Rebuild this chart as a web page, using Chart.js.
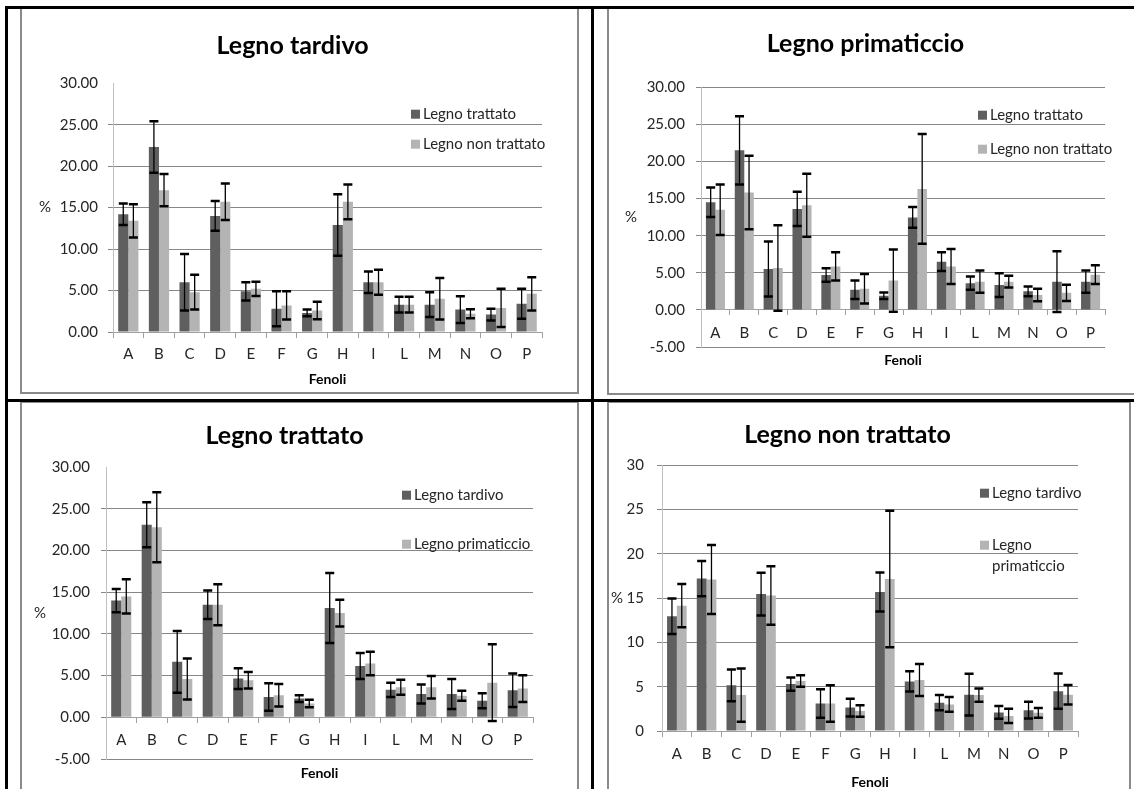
<!DOCTYPE html>
<html>
<head>
<meta charset="utf-8">
<title>Fenoli</title>
<script src="https://cdn.jsdelivr.net/npm/chart.js@4.4.0/dist/chart.umd.min.js"></script>
<style>
  body { margin:0; background:#fff; width:1134px; height:789px; position:relative; overflow:hidden; font-family:Lato, sans-serif; }
  .box { position:absolute; box-sizing:border-box; border:2px solid #8a8a8a; }
  .ln { position:absolute; background:#000; z-index:3; }
  canvas { position:absolute; z-index:2; }
</style>
</head>
<body>

<div class="box" style="left:20px;top:7px;width:559px;height:387px"></div>
<div class="box" style="left:607px;top:7px;width:600px;height:388px"></div>
<div class="box" style="left:20px;top:401px;width:559px;height:500px"></div>
<div class="box" style="left:607px;top:401px;width:524px;height:500px"></div>

<canvas id="c1" width="555" height="383" style="left:22px;top:9px"></canvas>
<canvas id="c2" width="525" height="384" style="left:609px;top:9px"></canvas>
<canvas id="c3" width="555" height="386" style="left:22px;top:403px"></canvas>
<canvas id="c4" width="520" height="386" style="left:609px;top:403px"></canvas>

<div class="ln" style="left:5px;top:6px;width:1129px;height:3px"></div>
<div class="ln" style="left:5px;top:6px;width:3px;height:783px"></div>
<div class="ln" style="left:5px;top:399px;width:1129px;height:3px"></div>
<div class="ln" style="left:591px;top:6px;width:3px;height:783px"></div>

<script>
/********************************
 *  dati
 * ******************************/
var categories = ['A','B','C','D','E','F','G','H','I','L','M','N','O','P'];

// Legno tardivo
var tardivoTrattato        = [14.2, 22.3, 6.0, 14.0, 4.9, 2.8, 2.3, 12.9, 6.0, 3.3, 3.3, 2.7, 2.1, 3.4];
var tardivoTrattatoErr     = [1.3, 3.1, 3.4, 1.8, 1.1, 2.1, 0.4, 3.7, 1.3, 0.95, 1.5, 1.6, 0.7, 1.8];
var tardivoNonTrattato     = [13.4, 17.1, 4.8, 15.7, 5.2, 3.2, 2.6, 15.7, 6.0, 3.3, 4.0, 2.2, 2.9, 4.6];
var tardivoNonTrattatoErr  = [2.0, 1.95, 2.1, 2.2, 0.85, 1.7, 1.05, 2.1, 1.5, 0.95, 2.5, 0.55, 2.3, 2.0];

// Legno primaticcio
var primTrattato           = [14.5, 21.5, 5.5, 13.6, 4.7, 2.7, 1.9, 12.45, 6.5, 3.6, 3.35, 2.5, 3.8, 3.8];
var primTrattatoErr        = [2.0, 4.6, 3.7, 2.3, 0.9, 1.25, 0.45, 1.4, 1.25, 0.9, 1.6, 0.65, 4.1, 1.5];
var primNonTrattato        = [13.5, 15.8, 5.65, 14.1, 5.85, 2.85, 3.95, 16.3, 5.85, 3.8, 3.8, 2.0, 2.3, 4.75];
var primNonTrattatoErr     = [3.4, 4.95, 5.75, 4.25, 1.9, 2.0, 4.2, 7.4, 2.35, 1.5, 0.8, 0.85, 1.1, 1.25];

// Legno trattato
var trattatoTardivo        = [14.0, 23.1, 6.65, 13.5, 4.65, 2.45, 2.25, 13.1, 6.15, 3.3, 2.8, 2.8, 2.0, 3.25];
var trattatoTardivoErr     = [1.4, 2.7, 3.7, 1.7, 1.25, 1.65, 0.4, 4.2, 1.55, 0.85, 1.15, 1.8, 0.9, 2.0];
var trattatoPrimaticcio    = [14.5, 22.8, 4.6, 13.5, 4.45, 2.65, 1.65, 12.5, 6.45, 3.6, 3.6, 2.6, 4.15, 3.45];
var trattatoPrimaticcioErr = [2.05, 4.2, 2.45, 2.45, 1.0, 1.35, 0.45, 1.6, 1.4, 0.9, 1.35, 0.6, 4.6, 1.6];

// Legno non trattato
var nonTrattatoTardivo        = [12.95, 17.2, 5.15, 15.45, 5.3, 3.1, 2.65, 15.7, 5.6, 3.2, 4.1, 2.1, 2.35, 4.5];
var nonTrattatoTardivoErr     = [2.0, 2.0, 1.8, 2.4, 0.75, 1.6, 1.0, 2.2, 1.15, 0.87, 2.35, 0.73, 0.95, 2.0];
var nonTrattatoPrimaticcio    = [14.15, 17.1, 4.05, 15.3, 5.65, 3.1, 2.25, 17.15, 5.75, 3.0, 4.05, 1.7, 2.05, 4.1];
var nonTrattatoPrimaticcioErr = [2.45, 3.9, 3.0, 3.3, 0.65, 2.05, 0.65, 7.7, 1.8, 0.83, 0.75, 0.8, 0.55, 1.1];

var DARK = '#5f5f5f';
var LIGHT = '#b4b4b4';
var GRID = '#878787';
var FONT = 'Lato';

/********************************
 *  plugin: barre d'errore, legenda interna, etichetta "%"
 * ******************************/
var errorBars = {
    id: 'errorBars',
    afterDatasetsDraw: function(chart) {
        var ctx = chart.ctx;
        var y = chart.scales.y;
        ctx.save();
        ctx.strokeStyle = '#000';
        chart.data.datasets.forEach(function(ds, i) {
            var meta = chart.getDatasetMeta(i);
            meta.data.forEach(function(bar, j) {
                var v = ds.data[j], e = ds.errors[j];
                var top = y.getPixelForValue(v + e);
                var bot = y.getPixelForValue(v - e);
                ctx.lineWidth = 1.3;
                ctx.beginPath();
                ctx.moveTo(bar.x, top);
                ctx.lineTo(bar.x, bot);
                ctx.stroke();
                ctx.lineWidth = 2.5;
                ctx.beginPath();
                ctx.moveTo(bar.x - 4.5, top); ctx.lineTo(bar.x + 4.5, top);
                ctx.moveTo(bar.x - 4.5, bot); ctx.lineTo(bar.x + 4.5, bot);
                ctx.stroke();
            });
        });
        ctx.restore();
    }
};

var boxLegend = {
    id: 'boxLegend',
    afterDraw: function(chart, args, opts) {
        var ctx = chart.ctx;
        var area = chart.chartArea;
        var x = area.right - opts.dx;
        ctx.save();
        ctx.font = '15px ' + FONT;
        ctx.textBaseline = 'middle';
        ctx.textAlign = 'left';
        chart.data.datasets.forEach(function(ds, i) {
            var yc = area.top + opts.ys[i];
            // a capo se l'etichetta e' troppo lunga
            var lines = [ds.label];
            if (opts.maxWidth && ctx.measureText(ds.label).width > opts.maxWidth) {
                lines = ds.label.split(' ');
            }
            ctx.fillStyle = ds.backgroundColor;
            ctx.fillRect(x, yc - 4.5, 9, 9);
            ctx.fillStyle = '#262626';
            lines.forEach(function(t, k) {
                ctx.fillText(t, x + 12, yc + k * 21);
            });
        });
        ctx.restore();
    }
};

var sideLabel = {
    id: 'sideLabel',
    afterDraw: function(chart, args, opts) {
        var ctx = chart.ctx;
        var area = chart.chartArea;
        ctx.save();
        ctx.font = '15px ' + FONT;
        ctx.fillStyle = '#262626';
        ctx.textAlign = 'center';
        ctx.textBaseline = 'middle';
        ctx.fillText(opts.text, area.left - opts.dx, (area.top + area.bottom) / 2);
        ctx.restore();
    }
};

/********************************
 *  costruzione di un grafico
 * ******************************/
function buildChart(id, o) {
    var ctx = document.getElementById(id).getContext('2d');
    return new Chart(ctx, {
        type: 'bar',
        data: {
            labels: categories,
            datasets: [
                { label: o.names[0], data: o.dark, errors: o.darkErr, backgroundColor: DARK },
                { label: o.names[1], data: o.light, errors: o.lightErr, backgroundColor: LIGHT }
            ]
        },
        options: {
            responsive: false,
            animation: false,
            layout: { padding: o.padding },
            datasets: { bar: { barPercentage: 1, categoryPercentage: 0.66 } },
            plugins: {
                legend: { display: false },
                tooltip: { enabled: false },
                title: {
                    display: true,
                    text: o.title,
                    color: '#000',
                    font: { family: FONT, size: 25, weight: 'bold' },
                    padding: o.titlePad
                },
                boxLegend: o.legend,
                sideLabel: { text: '%', dx: o.pctDx }
            },
            scales: {
                x: {
                    position: { y: 0 },
                    offset: true,
                    grid: { offset: true, drawOnChartArea: false, drawTicks: true, tickLength: 5, color: '#a0a0a0' },
                    border: { color: '#a0a0a0' },
                    ticks: { color: '#262626', font: { family: FONT, size: 15 }, padding: o.xPad },
                    title: {
                        display: true,
                        text: 'Fenoli',
                        color: '#000',
                        font: { family: FONT, size: 14, weight: 'bold' },
                        padding: { top: 0, bottom: 0 }
                    },
                    afterFit: function(s) { s.height = o.xHeight; }
                },
                y: {
                    min: o.min,
                    max: 30,
                    ticks: {
                        stepSize: 5,
                        color: '#262626',
                        font: { family: FONT, size: 15 },
                        padding: o.yPad,
                        callback: function(v) { return o.decimals ? v.toFixed(2) : String(v); }
                    },
                    grid: {
                        tickLength: 5,
                        color: function(c) {
                            if (o.hideTop && c.tick && c.tick.value === 30) return 'rgba(0,0,0,0)';
                            return GRID;
                        }
                    },
                    border: { color: '#c0c0c0' },
                    afterFit: function(s) { s.width = o.yWidth; }
                }
            }
        },
        plugins: [errorBars, boxLegend, sideLabel]
    });
}

buildChart('c1', {
    title: 'Legno tardivo',
    names: ['Legno trattato', 'Legno non trattato'],
    dark: tardivoTrattato, darkErr: tardivoTrattatoErr,
    light: tardivoNonTrattato, lightErr: tardivoNonTrattatoErr,
    min: 0, decimals: true, hideTop: true,
    padding: { left: 21, right: 35, top: 0, bottom: 60 },
    titlePad: { top: 21.6, bottom: 22.6 },
    yWidth: 70, yPad: 10, xPad: 8, xHeight: 55.4, pctDx: 68,
    legend: { dx: 131, ys: [31, 61] }
});

buildChart('c2', {
    title: 'Legno primaticcio',
    names: ['Legno trattato', 'Legno non trattato'],
    dark: primTrattato, darkErr: primTrattatoErr,
    light: primNonTrattato, lightErr: primNonTrattatoErr,
    min: -5, decimals: true, hideTop: false,
    padding: { left: 17, right: 29, top: 0, bottom: 46 },
    titlePad: { top: 19.6, bottom: 28.6 },
    yWidth: 75, yPad: 11, xPad: 9, xHeight: 59.4, pctDx: 70,
    legend: { dx: 127, ys: [28, 62] }
});

buildChart('c3', {
    title: 'Legno trattato',
    names: ['Legno tardivo', 'Legno primaticcio'],
    dark: trattatoTardivo, darkErr: trattatoTardivoErr,
    light: trattatoPrimaticcio, lightErr: trattatoPrimaticcioErr,
    min: -5, decimals: true, hideTop: true,
    padding: { left: 14, right: 44, top: 0, bottom: 30 },
    titlePad: { top: 17.6, bottom: 16.6 },
    yWidth: 70, yPad: 11, xPad: 9, xHeight: 64.4, pctDx: 66,
    legend: { dx: 131, ys: [28, 77] }
});

buildChart('c4', {
    title: 'Legno non trattato',
    names: ['Legno tardivo', 'Legno primaticcio'],
    dark: nonTrattatoTardivo, darkErr: nonTrattatoTardivoErr,
    light: nonTrattatoPrimaticcio, lightErr: nonTrattatoPrimaticcioErr,
    min: 0, decimals: false, hideTop: false,
    padding: { left: 8, right: 51, top: 0, bottom: 58 },
    titlePad: { top: 16.6, bottom: 15.6 },
    yWidth: 45, yPad: 13, xPad: 9, xHeight: 59.4, pctDx: 45,
    legend: { dx: 98, ys: [28, 80], maxWidth: 90 }
});
</script>
</body>
</html>
